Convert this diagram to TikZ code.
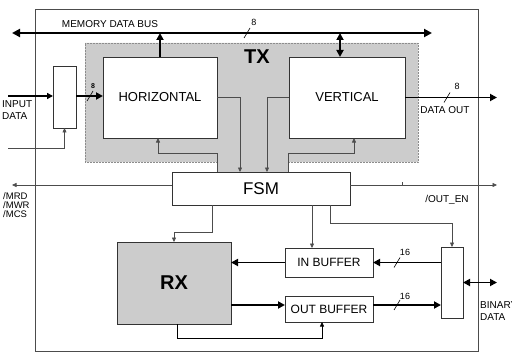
\documentclass[tikz,border=0pt]{standalone}
\usepackage{fontspec}
\setmainfont{Liberation Sans}
\usetikzlibrary{arrows.meta}
\newcommand\busmark[2]{\draw[line width=0.6pt] ({#1-3},{#2+5}) -- ({#1+3},{#2-5});}
\begin{document}
\begin{tikzpicture}[x=1pt,y=-1pt,
  box/.style={draw=black!80, line width=0.7pt, fill=white, inner sep=0pt, outer sep=0pt},
  shade/.style={fill=black!20},
  busline/.style={line width=2.4pt},
  thk/.style={line width=1.8pt, -{Triangle[length=7pt,width=7pt]}},
  thkboth/.style={line width=1.8pt, {Triangle[length=7pt,width=7pt]}-{Triangle[length=7pt,width=7pt]}},
  sig/.style={line width=0.6pt, draw=black!70, -{Triangle[length=4.5pt,width=4pt]}},
  lbl/.style={font=\fontsize{10}{12}\selectfont, inner sep=0pt},
  small/.style={font=\fontsize{9}{9}\selectfont, inner sep=0pt},
  big/.style={font=\fontsize{13}{13}\selectfont},
  unit/.style={font=\fontsize{20}{20}\bfseries, inner sep=0pt},
  ]
\useasboundingbox (0,0) rectangle (512,353);
\clip (0,0) rectangle (512,353);

% outer frame
\draw[black!70, line width=0.6pt] (35,9) rectangle (478,351);

% TX shaded area
\path[shade, draw=black!45, line width=0.5pt, densely dotted]
  (85,43) -- (418,43) -- (418,162) -- (288,162) -- (288,172) -- (217,172) -- (217,162) -- (85,162) -- cycle;
\node[unit] (tx) at (257,57) {TX};

% blocks
\node[box, minimum width=114pt, minimum height=81pt, big] (hor) at (160,97.5) {HORIZONTAL};
\node[box, minimum width=116pt, minimum height=81pt, big] (ver) at (347,97.5) {VERTICAL};
\node[box, minimum width=23pt, minimum height=62pt] (inbox) at (64.5,97) {};
\node[box, minimum width=178pt, minimum height=33pt, font=\fontsize{17}{17}\selectfont] (fsm) at (261,188.5) {FSM};
\node[box, shade, minimum width=114pt, minimum height=82pt] (rx) at (174,283) {};
\node[unit] (rxl) at (174,283) {RX};
\node[box, minimum width=88pt, minimum height=29pt, font=\fontsize{12}{12}\selectfont] (inb) at (329,262.5) {IN BUFFER};
\node[box, minimum width=88pt, minimum height=26pt, font=\fontsize{12}{12}\selectfont] (outb) at (329,309) {OUT BUFFER};
\node[box, minimum width=22pt, minimum height=71pt] (bd) at (452,282.5) {};

% free ends
\coordinate (busL) at (12,33);
\coordinate (busR) at (432,33);
\coordinate (inL) at (8,96);
\coordinate (ctlL) at (8,148);
\coordinate (mrdL) at (12,185);
\coordinate (oenR) at (497,185);
\coordinate (doR) at (497,97.5);
\coordinate (bdR) at (497,282.5);

% memory data bus
\draw[busline, {Triangle[length=8pt,width=8pt]}-{Triangle[length=8pt,width=8pt]}] (busL) -- (busR);
\node[lbl] (mdb) at (110,24) {MEMORY DATA BUS};
\busmark{247}{33}
\node[small] (m8a) at (254,22) {8};
\draw[thk] (hor.north) -- (hor.north |- busL);
\draw[thkboth] ([xshift=-7pt]ver.north) -- ([xshift=-7pt]ver.north |- busL);

% input data
\draw[line width=1.5pt, -{Triangle[length=6pt,width=6pt]}] (inL) -- (inbox.west |- inL);
\node[lbl, align=left, anchor=west] (ind) at (2,110) {INPUT\\DATA};
\draw[thk] (inbox.east |- inL) -- (hor.west |- inL);
\busmark{90}{96}
\node[font=\fontsize{7}{7}\bfseries, inner sep=0pt] (m8b) at (93,86) {8};
\draw[sig] (ctlL) -| (inbox.south);

% TX <-> FSM
\draw[sig] (hor.east) -| ([xshift=-21pt]fsm.north);
\draw[sig] (ver.west) -| ([xshift=6pt]fsm.north);
\draw[sig] ([xshift=-44pt]fsm.north) -- ++(0,-19) -| ([xshift=-2pt]hor.south);
\draw[sig] ([xshift=27pt]fsm.north) -- ++(0,-19) -| ([xshift=7pt]ver.south);

% data out
\draw[thk] (ver.east) -- (doR);
\busmark{447}{97.5}
\node[small] (m8c) at (457,86) {8};
\node[lbl] (dout) at (445,110) {DATA OUT};

% FSM control outputs
\draw[sig] ([yshift=3.5pt]fsm.west) -- (mrdL);
\node[lbl, align=left, anchor=north west, font=\fontsize{9.5}{9}\selectfont] (mrd) at (3,192) {/MRD\\/MWR\\/MCS};
\draw[sig] ([yshift=3.5pt]fsm.east) -- (oenR);
\draw[line width=0.6pt, black!70] (402,182) -- (402,185);
\node[lbl] (oen) at (447,200) {/OUT\_EN};

% FSM to lower blocks
\draw[sig] ([xshift=-49pt]fsm.south) -- ++(0,27) -| (rx.north);
\draw[sig] ([xshift=51pt]fsm.south) -- ([xshift=51pt]fsm.south |- inb.north);
\draw[sig] ([xshift=69pt]fsm.south) -- ++(0,18) -| (bd.north);

% data paths RX side
\draw[thk] (bd.west |- inb.east) -- (inb.east);
\busmark{397}{262.5}
\node[small] (m16a) at (405,252) {16};
\draw[thk] (inb.west) -- (inb.west -| rx.east);
\draw[thk] ([yshift=4pt]outb.west -| rx.east) -- ([yshift=4pt]outb.west);
\draw[thk] ([yshift=4pt]outb.east) -- ([yshift=4pt]outb.east -| bd.west);
\busmark{397}{305}
\node[small] (m16b) at (405,296) {16};
\draw[sig, draw=black] ([xshift=3pt]rx.south) -- ++(0,14) -| ([xshift=-7pt]outb.south);

% binary data
\draw[thkboth] (bd.east) -- (bdR);
\node[lbl, align=left, anchor=west] (bin) at (480,311) {BINARY\\DATA};
\end{tikzpicture}
\end{document}
